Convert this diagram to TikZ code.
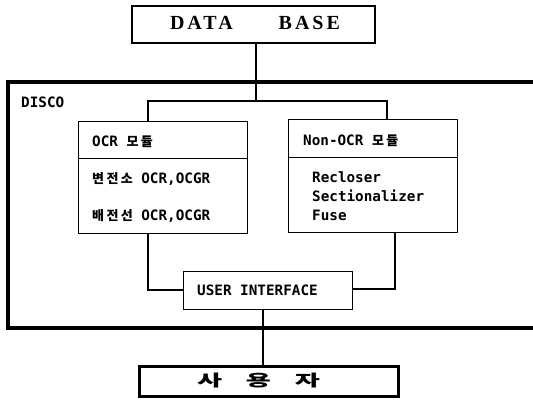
\documentclass[tikz,border=0pt]{standalone}
\usepackage{fontspec}
\usepackage{graphicx}
\setmonofont{DejaVu Sans Mono}
\newfontfamily\ko[LetterSpace=18]{Noto Sans CJK KR}
\newfontfamily\kobig{Noto Sans CJK KR}
\newfontfamily\dbfont[LetterSpace=15]{Liberation Serif}
\tikzset{
  box/.style={draw, line width=1.4pt, minimum width=#1, inner sep=0pt},
  lbl/.style={anchor=base west, inner sep=0pt, font=\ttfamily\bfseries\fontsize{14.3}{16}\selectfont},
  kor/.style={},
  wire/.style={line width=1.2pt},
  frame/.style={line width=3.2pt}
}
\newcommand{\kr}[1]{{\ko\bfseries\fontsize{13}{16}\selectfont #1}}
\begin{document}
\begin{tikzpicture}[x=1pt,y=-1pt]
\useasboundingbox (0,0) rectangle (533,405);

% database at the top
\node[box=243pt, line width=1.6pt, minimum height=37pt, anchor=north west] (db) at (131,5) {};
\node[anchor=base, inner sep=0pt] (dbtext) at (255,29)
  {\dbfont\bfseries\fontsize{20}{22}\selectfont DATA\hspace{46pt}BASE};

% DISCO frame (open to the right)
\draw[frame] (533,82) -- (8,82) -- (8,328) -- (533,328);
\node[lbl] (disco) at (21,107) {DISCO};

% branch from the database to both modules
\coordinate (branch) at (256,101);

% OCR module
\node[box=169pt, minimum height=37pt, anchor=north west] (ocrh) at (78,121) {};
\node[box=169pt, minimum height=75pt, anchor=north west] (ocrb) at (78,158) {};
\node[lbl] (ocrt) at (92,146) {OCR \kr{모듈}};
\node[lbl] (ocr1) at (92,183) {\kr{변전소} OCR,OCGR};
\node[lbl] (ocr2) at (92,220) {\kr{배전선} OCR,OCGR};

% Non-OCR module
\node[box=169pt, minimum height=38pt, anchor=north west] (noch) at (288,119) {};
\node[box=169pt, minimum height=75pt, anchor=north west] (nocb) at (288,157) {};
\node[lbl] (noct) at (303,145) {Non-OCR \kr{모듈}};
\node[lbl] (noc1) at (312,182) {Recloser};
\node[lbl] (noc2) at (312,201) {Sectionalizer};
\node[lbl] (noc3) at (312,220) {Fuse};

% user interface
\node[box=169pt, minimum height=38pt, anchor=north west] (ui) at (183,271) {};
\node[lbl] (uit) at (197,295) {USER INTERFACE};

% user
\node[box=259pt, line width=2.8pt, minimum height=30pt, anchor=north west] (user) at (138,365) {};
\node[inner sep=0pt] (usert) at (258.5,381)
  {\scalebox{1.7}[1]{\kobig\bfseries\fontsize{16}{18}\selectfont 사\hspace{14pt}용\hspace{14pt}자}};

% connectors
\draw[wire] (db.south -| branch) -- (branch);
\draw[wire] (ocrh.north -| 148,0) -- (148,101) -- (387,101) -- (noch.north -| 387,0);
\draw[wire] (ocrb.south -| 148,0) -- (148,290) -- (ui.west |- 0,290);
\draw[wire] (nocb.south -| 395,0) -- (395,289) -- (ui.east |- 0,289);
\draw[wire] (ui.south -| 263,0) -- (user.north -| 263,0);
\end{tikzpicture}
\end{document}
